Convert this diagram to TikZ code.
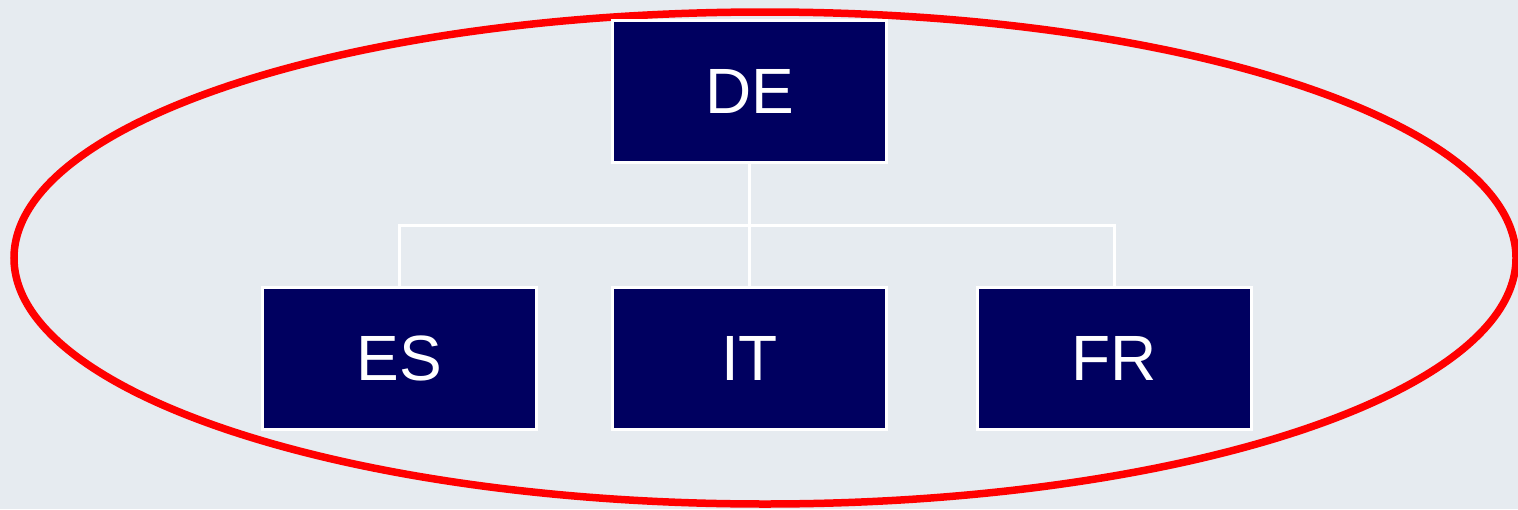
\documentclass[tikz,border=0pt]{standalone}
\usepackage{fontspec}
\setmainfont{Liberation Sans}
\definecolor{bgcol}{RGB}{230,235,240}
\definecolor{navy}{RGB}{0,0,96}
\definecolor{ringred}{RGB}{255,0,0}
\tikzset{
  unit/.style={draw=white, line width=3pt, fill=navy, text=white,
    minimum width=274pt, minimum height=142pt, inner sep=0pt,
    font=\fontsize{64}{64}\selectfont},
  link/.style={draw=white, line width=3pt},
}
\begin{document}
\begin{tikzpicture}[x=1pt,y=1pt]
  % canvas
  \fill[bgcol] (0,0) rectangle (1518,-509);
  \useasboundingbox (0,0) rectangle (1518,-509);
  % red ring around the group
  \draw[ringred, line width=7.5pt] (765,-258) ellipse [x radius=751, y radius=246];
  % boxes
  \node[unit] (de) at (749.5,-91) {DE};
  \node[unit] (es) at (399.5,-358) {ES};
  \node[unit] (it) at (749.5,-358) {IT};
  \node[unit] (fr) at (1114,-358) {FR};
  % tree connectors
  \coordinate (bus) at (749.5,-225);
  \draw[link] (de.south) -- (bus);
  \draw[link] (es.north) |- (bus) -| (fr.north);
  \draw[link] (bus) -- (it.north);
\end{tikzpicture}
\end{document}
